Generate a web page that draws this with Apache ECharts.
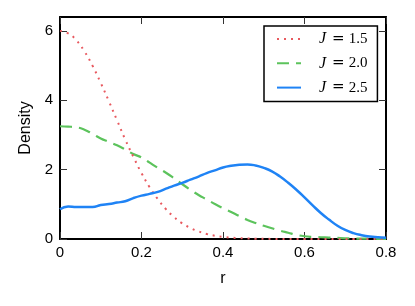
<!DOCTYPE html>
<html>
<head>
<meta charset="utf-8">
<script src="https://cdn.jsdelivr.net/npm/echarts@6/dist/echarts.min.js"></script>
<style>html,body{margin:0;padding:0;background:#fff;}#c{width:415px;height:306px;}</style>
</head>
<body>
<div id="c"></div>
<script>
const rValues = [0,0.02,0.04,0.06,0.08,0.10,0.12,0.14,0.16,0.18,0.20,0.22,0.24,0.26,0.28,0.30,0.32,0.34,0.36,0.38,0.40,0.42,0.44,0.46,0.48,0.50,0.52,0.54,0.56,0.58,0.60,0.62,0.64,0.66,0.68,0.70,0.72,0.74,0.76,0.78,0.80];
const densJ15 = [6.00,5.93,5.73,5.41,4.99,4.50,3.97,3.42,2.87,2.37,1.90,1.49,1.15,0.86,0.63,0.45,0.32,0.22,0.145,0.095,0.06,0.04,0.025,0.015,0.008,0.005,0.003,0.002,0.001,0.001,0,0,0,0,0,0,0,0,0,0,0];
const densJ20 = [3.25,3.24,3.22,3.15,3.03,2.90,2.80,2.70,2.58,2.45,2.35,2.20,2.05,1.91,1.75,1.58,1.42,1.27,1.14,1.01,0.89,0.78,0.66,0.55,0.46,0.38,0.31,0.24,0.18,0.12,0.08,0.06,0.05,0.04,0.03,0.02,0.015,0.01,0.008,0.006,0.005];
const densJ25 = [0.86,0.94,0.92,0.92,0.92,0.98,1.01,1.05,1.09,1.18,1.25,1.30,1.36,1.45,1.54,1.62,1.71,1.80,1.90,1.98,2.06,2.11,2.14,2.15,2.12,2.05,1.95,1.80,1.62,1.42,1.20,0.97,0.75,0.56,0.39,0.26,0.17,0.11,0.07,0.05,0.035];
const seriesNames = ['J15','J20','J25'];
const legendValues = ['1.5','2.0','2.5'];
const xTicks = [0,0.2,0.4,0.6,0.8];
const yTicks = [0,2,4,6];

const pairs = arr => rValues.map((r,i)=>[r,arr[i]]);
const chart = echarts.init(document.getElementById('c'), null, {renderer:'canvas'});
const sans = 'Liberation Sans';
const axisLineStyle = {color:'#000', width:2};
const tickStyle = {color:'#333', width:1};
const xBase = {
  type:'value', min:0, max:0.8, interval:0.2,
  axisLine:{show:true, onZero:false, lineStyle:axisLineStyle},
  axisTick:{show:true, inside:true, length:7, lineStyle:tickStyle, customValues:xTicks},
  splitLine:{show:false}
};
const yBase = {
  type:'value', min:0, max:6.4,
  axisLine:{show:true, onZero:false, lineStyle:axisLineStyle},
  axisTick:{show:true, inside:true, length:7, lineStyle:tickStyle, customValues:yTicks},
  splitLine:{show:false}
};
const labelRich = {
  j:{fontFamily:'Liberation Serif', fontStyle:'italic', fontSize:16, color:'#000', padding:[0,0,0,13], lineHeight:14},
  e:{fontFamily:'DejaVu Sans', fontSize:15, color:'#000', padding:[0,4,0,6], lineHeight:14},
  n:{fontFamily:'Liberation Serif', fontSize:15, color:'#000', lineHeight:14}
};
chart.setOption({
  animation:false,
  backgroundColor:'#fff',
  grid:{left:60, right:29, top:17, bottom:67, containLabel:false},
  legend:{
    orient:'vertical', left:264, top:26,
    padding:[5,10,6,12], itemGap:8.3, itemWidth:24, itemHeight:14,
    backgroundColor:'#fff', borderColor:'#000', borderWidth:1.5, borderRadius:0,
    itemStyle:{opacity:0},
    data:seriesNames,
    formatter: name => '{j|J}{e|=}{n|' + legendValues[seriesNames.indexOf(name)] + '}',
    textStyle:{rich:labelRich}
  },
  xAxis:[
    Object.assign({}, xBase, {position:'bottom',
      name:'r', nameLocation:'middle', nameGap:32,
      nameTextStyle:{fontFamily:sans, fontSize:16, color:'#000'},
      axisLabel:{show:true, margin:6, fontFamily:sans, fontSize:15, color:'#000', customValues:xTicks,
        formatter: v => String(v)}}),
    Object.assign({}, xBase, {position:'top', axisLabel:{show:false}})
  ],
  yAxis:[
    Object.assign({}, yBase, {position:'left',
      name:'Density', nameLocation:'middle', nameGap:26,
      nameTextStyle:{fontFamily:sans, fontSize:16, color:'#000'},
      axisLabel:{show:true, margin:7, fontFamily:sans, fontSize:15, color:'#000', customValues:yTicks}}),
    Object.assign({}, yBase, {position:'right', axisLabel:{show:false}})
  ],
  series:[
    {name:'J15', type:'line', data:pairs(densJ15), showSymbol:false, symbol:'none', smooth:true,
      lineStyle:{color:'#e8595f', width:2, type:[2,5]}, itemStyle:{color:'#e8595f'}, z:3},
    {name:'J20', type:'line', data:pairs(densJ20), showSymbol:false, symbol:'none', smooth:true,
      lineStyle:{color:'#5cc35c', width:2.2, type:[12,7]}, itemStyle:{color:'#5cc35c'}, z:2},
    {name:'J25', type:'line', data:pairs(densJ25), showSymbol:false, symbol:'none', smooth:true,
      lineStyle:{color:'#1f83f5', width:2.5}, itemStyle:{color:'#1f83f5'}, z:4}
  ]
});
</script>
</body>
</html>
